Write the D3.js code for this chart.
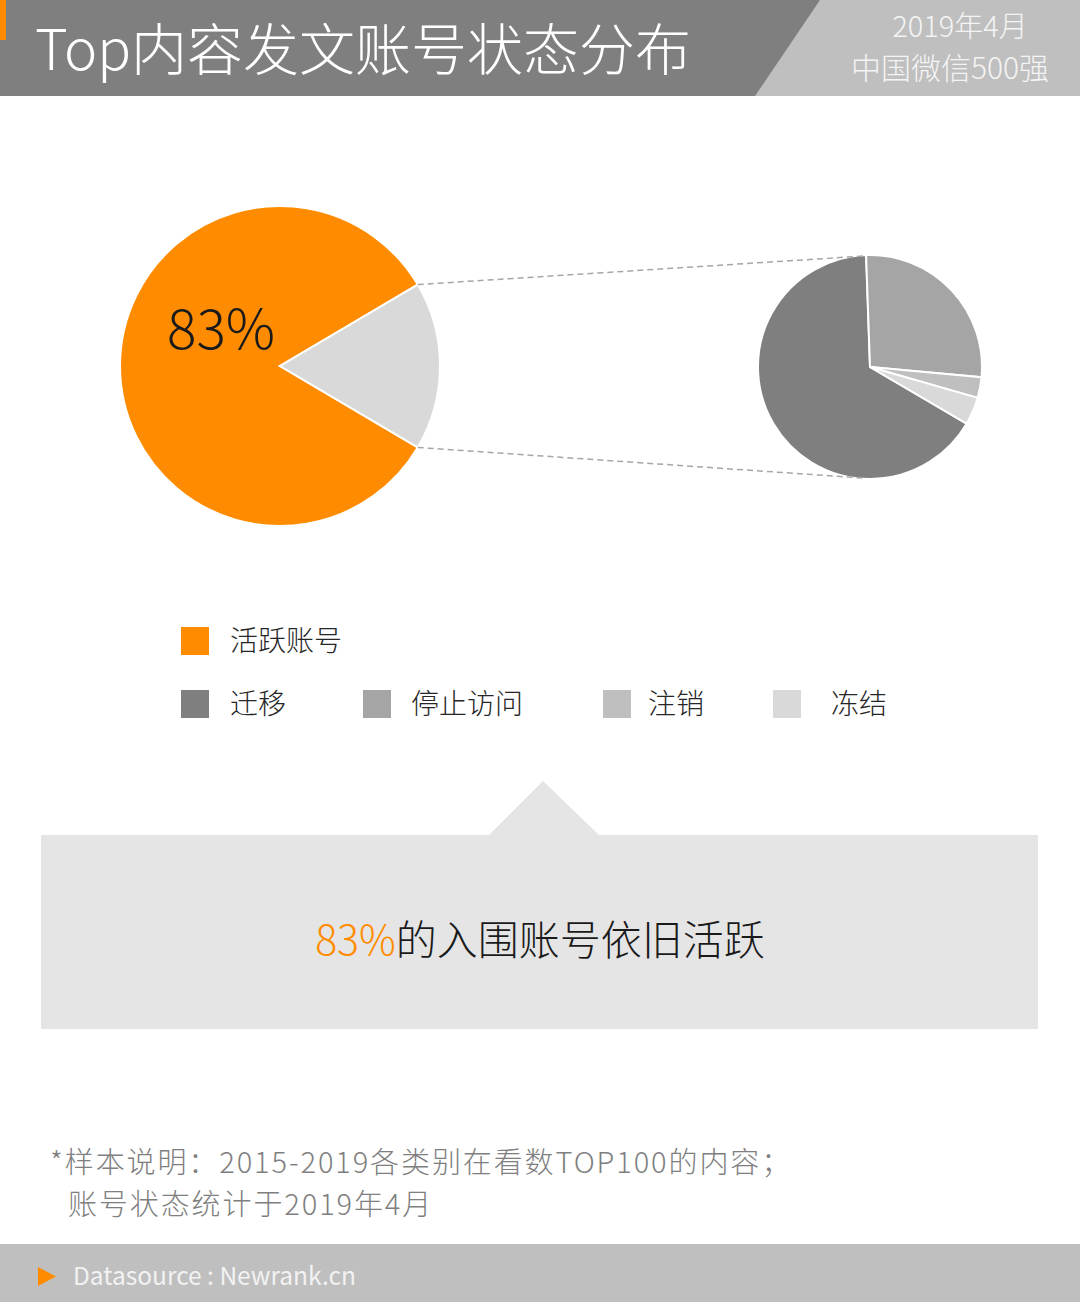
<!DOCTYPE html>
<html>
<head>
<meta charset="utf-8">
<script src="https://d3js.org/d3.v7.min.js"></script>
<style>
  body { margin: 0; background: #fff; }
  text { font-family: "Noto Sans CJK SC", "Noto Sans", sans-serif; }
</style>
</head>
<body>
<script>
	var width = 1080;
	var height = 1302;

	// data
	var mainLabels = ["活跃账号", "其他"];
	var mainValues = [83, 17];
	var mainColors = ["#ff8c00", "#d9d9d9"];

	var subLabels = ["迁移", "停止访问", "注销", "冻结"];
	var subValues = [66, 27, 3, 4];
	var subColors = ["#7f7f7f", "#a5a5a5", "#bfbfbf", "#d9d9d9"];

	var legendLabels = ["活跃账号", "迁移", "停止访问", "注销", "冻结"];
	var legendColors = ["#ff8c00", "#7f7f7f", "#a5a5a5", "#bfbfbf", "#d9d9d9"];

	var svg = d3.select("body")
		.append("svg")
		.attr("width", width)
		.attr("height", height)

	// header
	svg.append("rect").attr("x", 0).attr("y", 0).attr("width", width).attr("height", 96).attr("fill", "#bfbfbf")
	svg.append("path").attr("d", "M0,0 L820,0 L755,96 L0,96 Z").attr("fill", "#7f7f7f")
	svg.append("rect").attr("x", 0).attr("y", 0).attr("width", 6).attr("height", 40).attr("fill", "#ff8c00")
	svg.append("text")
		.attr("x", 35).attr("y", 70)
		.attr("font-size", 56).attr("font-weight", 300)
		.attr("fill", "#ffffff")
		.text("Top内容发文账号状态分布")
	svg.append("text")
		.attr("x", 960).attr("y", 37)
		.attr("text-anchor", "middle")
		.attr("font-size", 29).attr("font-weight", 300)
		.attr("fill", "#f4f4f4")
		.text("2019年4月")
	svg.append("text")
		.attr("x", 950).attr("y", 79)
		.attr("text-anchor", "middle")
		.attr("font-size", 30).attr("font-weight", 300)
		.attr("fill", "#f4f4f4")
		.text("中国微信500强")

	// left pie
	var cx1 = 280, cy1 = 366, r1 = 160;
	var otherShare = mainValues[1] / d3.sum(mainValues);
	var a1 = Math.PI / 2 + Math.PI * otherShare;
	var pie1 = d3.pie().sort(null).startAngle(a1).endAngle(a1 + 2 * Math.PI);
	var arc1 = d3.arc().innerRadius(0).outerRadius(r1);
	var arcs1 = pie1(mainValues);
	var g1 = svg.append("g").attr("transform", "translate(" + cx1 + "," + cy1 + ")");
	g1.selectAll("path")
		.data(arcs1)
		.enter()
		.append("path")
		.attr("d", arc1)
		.attr("fill", (d, i) => mainColors[i])
		.attr("stroke", "#fff")
		.attr("stroke-width", 2)
	svg.append("text")
		.attr("x", 167).attr("y", 349)
		.attr("font-size", 55).attr("font-weight", 300)
		.attr("fill", "#1a1a1a")
		.text(mainValues[0] + "%")

	// right pie
	var cx2 = 870, cy2 = 367, r2 = 112;
	var firstShare = subValues[0] / d3.sum(subValues);
	var a2 = 2 * Math.PI * (1 - firstShare) - 2 * Math.PI / 180;
	var pie2 = d3.pie().sort(null).startAngle(a2).endAngle(a2 + 2 * Math.PI);
	var arc2 = d3.arc().innerRadius(0).outerRadius(r2);
	var g2 = svg.append("g").attr("transform", "translate(" + cx2 + "," + cy2 + ")");
	g2.selectAll("path")
		.data(pie2(subValues))
		.enter()
		.append("path")
		.attr("d", arc2)
		.attr("fill", (d, i) => subColors[i])
		.attr("stroke", "#fff")
		.attr("stroke-width", 2)

	// connector lines from the grey slice to the detail pie
	var gs = arcs1[1];
	var p1 = [cx1 + r1 * Math.sin(gs.startAngle), cy1 - r1 * Math.cos(gs.startAngle)];
	var p2 = [cx1 + r1 * Math.sin(gs.endAngle), cy1 - r1 * Math.cos(gs.endAngle)];
	var conn = [
		[p1, [cx2 - 6, cy2 - r2 + 1]],
		[p2, [cx2 - 8, cy2 + r2 - 1]]
	];
	svg.selectAll(".conn")
		.data(conn)
		.enter()
		.append("line")
		.attr("x1", d => d[0][0]).attr("y1", d => d[0][1])
		.attr("x2", d => d[1][0]).attr("y2", d => d[1][1])
		.attr("stroke", "#a6a6a6")
		.attr("stroke-width", 1.5)
		.attr("stroke-dasharray", "6,4")

	// legend
	var legendPos = [[181, 627], [181, 690], [363, 690], [603, 690], [773, 690]];
	var legendTextX = [230, 230, 411, 648, 831];
	var lg = svg.selectAll(".lg")
		.data(legendLabels)
		.enter()
		.append("g")
	lg.append("rect")
		.attr("x", (d, i) => legendPos[i][0])
		.attr("y", (d, i) => legendPos[i][1])
		.attr("width", 28).attr("height", 28)
		.attr("fill", (d, i) => legendColors[i])
	lg.append("text")
		.attr("x", (d, i) => legendTextX[i])
		.attr("y", (d, i) => legendPos[i][1] + 24)
		.attr("font-size", 28).attr("font-weight", 300)
		.attr("fill", "#262626")
		.text(d => d)

	// callout box
	svg.append("path")
		.attr("d", "M41,835 L489,835 L543,781 L599,835 L1038,835 L1038,1029 L41,1029 Z")
		.attr("fill", "#e5e5e5")
	var callout = svg.append("text")
		.attr("x", 540).attr("y", 955)
		.attr("text-anchor", "middle")
		.attr("font-size", 41).attr("font-weight", 300)
	callout.append("tspan").attr("fill", "#ff8c00").text(mainValues[0] + "%")
	callout.append("tspan").attr("fill", "#1a1a1a").text("的入围账号依旧活跃")

	// footnote
	svg.append("text")
		.attr("x", 50).attr("y", 1173)
		.attr("font-size", 29).attr("font-weight", 300)
		.attr("letter-spacing", 1.9)
		.attr("fill", "#7f7f7f")
		.text("*样本说明：2015-2019各类别在看数TOP100的内容；")
	svg.append("text")
		.attr("x", 68).attr("y", 1215)
		.attr("font-size", 29).attr("font-weight", 300)
		.attr("letter-spacing", 1.9)
		.attr("fill", "#7f7f7f")
		.text("账号状态统计于2019年4月")

	// footer
	svg.append("rect").attr("x", 0).attr("y", 1244).attr("width", width).attr("height", 58).attr("fill", "#bfbfbf")
	svg.append("path").attr("d", "M38,1267 L56,1276.5 L38,1286 Z").attr("fill", "#ff8c00")
	svg.append("text")
		.attr("x", 73).attr("y", 1285)
		.attr("font-family", "'Open Sans', sans-serif")
		.attr("font-size", 24.5)
		.attr("fill", "#f2f2f2")
		.text("Datasource : Newrank.cn")
</script>
</body>
</html>
